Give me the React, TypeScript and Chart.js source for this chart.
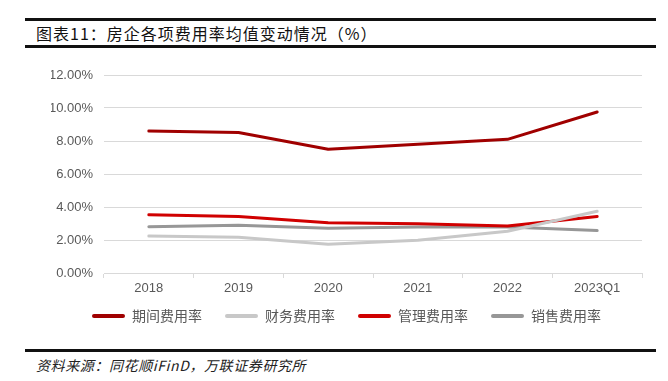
import React, { useEffect, useRef } from "react";
import { Chart, registerables } from "chart.js";

Chart.register(...registerables);

const categories = ["2018", "2019", "2020", "2021", "2022", "2023Q1"];
const seriesNames = ["期间费用率", "财务费用率", "管理费用率", "销售费用率"];
const periodRate = [8.6, 8.52, 7.5, 7.8, 8.1, 9.76];
const financeRate = [2.24, 2.16, 1.74, 1.98, 2.53, 3.74];
const adminRate = [3.53, 3.43, 3.05, 2.99, 2.85, 3.43];
const salesRate = [2.81, 2.89, 2.71, 2.79, 2.79, 2.57];
const seriesColors = ["#A00000", "#C8C8C8", "#D00000", "#979797"];
const yTicks = { min: 0, max: 12, step: 2 };

export default function App() {
  const ref = useRef<HTMLCanvasElement | null>(null);

  useEffect(() => {
    if (!ref.current) return;
    const values = [periodRate, financeRate, adminRate, salesRate];
    const chart = new Chart(ref.current, {
      type: "line",
      data: {
        labels: categories,
        datasets: seriesNames.map((name, i) => ({
          label: name,
          data: values[i],
          borderColor: seriesColors[i],
          backgroundColor: seriesColors[i],
          borderWidth: 3,
          pointRadius: 0,
          pointHoverRadius: 0,
          tension: 0,
          borderCapStyle: "round" as const,
          borderJoinStyle: "round" as const,
          fill: false,
        })),
      },
      options: {
        animation: false,
        responsive: false,
        devicePixelRatio: 1,
        layout: { padding: { left: 51, right: 26, top: 20, bottom: 0 } },
        scales: {
          x: {
            offset: true,
            grid: {
              offset: true,
              drawOnChartArea: false,
              drawTicks: true,
              tickLength: 5,
              color: "#D9D9D9",
            },
            border: { display: true, color: "#D9D9D9" },
            ticks: {
              color: "#595959",
              padding: 3,
              font: { family: "'Liberation Sans', Arial, sans-serif", size: 13 },
              maxRotation: 0,
            },
            afterFit: (scale: any) => {
              scale.height = 13;
              scale._computeLabelArea = () => undefined;
            },
          },
          y: {
            min: yTicks.min,
            max: yTicks.max,
            grid: { color: "#D9D9D9", drawTicks: false },
            border: { display: false },
            ticks: {
              stepSize: yTicks.step,
              padding: 11,
              color: "#595959",
              font: { family: "'Liberation Sans', Arial, sans-serif", size: 13 },
              callback: (v: any) => Number(v).toFixed(2) + "%",
            },
            afterFit: (scale: any) => {
              scale.width = 53;
            },
          },
        },
        plugins: {
          tooltip: { enabled: false },
          legend: {
            position: "bottom",
            labels: {
              color: "#595959",
              boxWidth: 33,
              boxHeight: 4,
              padding: 23,
              useBorderRadius: true,
              borderRadius: 2,
              font: { family: "'Noto Sans CJK SC', sans-serif", size: 14 },
              generateLabels: (c: any) =>
                Chart.defaults.plugins.legend.labels
                  .generateLabels(c)
                  .map((l: any) => ({ ...l, lineWidth: 0 })),
            },
          },
        },
      },
    });
    return () => chart.destroy();
  }, []);

  return (
    <div
      style={{
        position: "absolute",
        left: 0,
        top: 0,
        width: 668,
        height: 381,
        background: "#fff",
        overflow: "hidden",
      }}
    >
      <div style={{ position: "absolute", left: 25, top: 18, width: 631, height: 3, background: "#111" }} />
      <div
        style={{
          position: "absolute",
          left: 36,
          top: 22,
          fontFamily: "'Noto Sans CJK SC', sans-serif",
          fontSize: 16,
          letterSpacing: "1px",
          lineHeight: "22px",
          color: "#111",
          whiteSpace: "nowrap",
        }}
      >
        图表11：房企各项费用率均值变动情况（%）
      </div>
      <div style={{ position: "absolute", left: 25, top: 45, width: 631, height: 3, background: "#111" }} />
      <canvas
        ref={ref}
        width={668}
        height={278}
        style={{ position: "absolute", left: 0, top: 55, width: 668, height: 278 }}
      />
      <div style={{ position: "absolute", left: 25, top: 349, width: 631, height: 3, background: "#111" }} />
      <div
        style={{
          position: "absolute",
          left: 36,
          top: 355,
          fontFamily: "'Noto Sans CJK SC', sans-serif",
          fontSize: 14,
          letterSpacing: "0.6px",
          fontStyle: "italic",
          lineHeight: "20px",
          color: "#222",
          whiteSpace: "nowrap",
        }}
      >
        资料来源：同花顺iFinD，万联证券研究所
      </div>
    </div>
  );
}
